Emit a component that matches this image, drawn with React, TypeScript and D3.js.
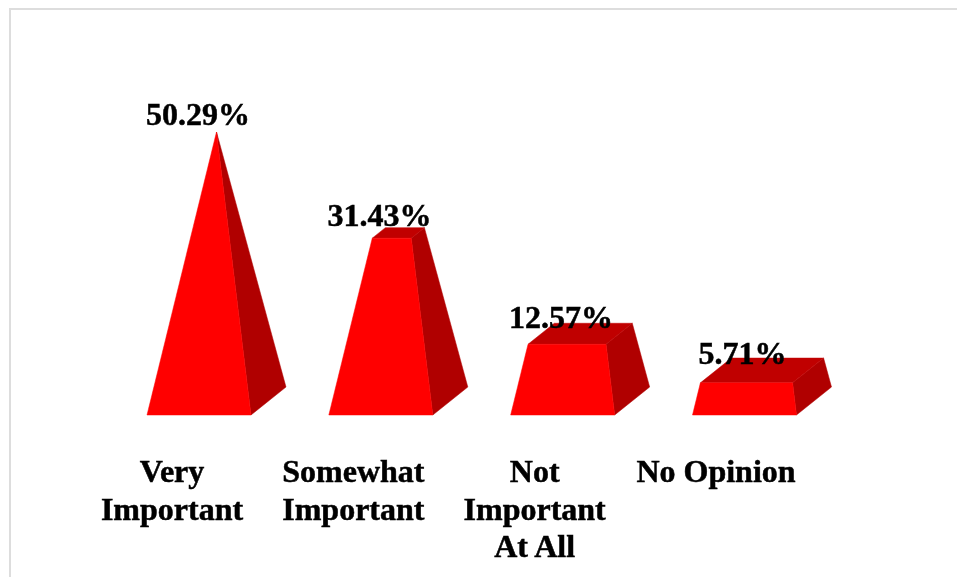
import * as d3 from "d3";

const categories = ["Very Important", "Somewhat Important", "Not Important At All", "No Opinion"];
const categoryLines = [["Very", "Important"], ["Somewhat", "Important"], ["Not", "Important", "At All"], ["No Opinion"]];
const values = [50.29, 31.43, 12.57, 5.71];
const valueLabels = ["50.29%", "31.43%", "12.57%", "5.71%"];

const width = 957;
const height = 577;
const baseY = 415;
const baseW = 104;
const depthX = 35;
const depthY = 28;
const apexY = 132;

// the tallest bar comes to a point, the others are cut off along the way
const taper = d3.scaleLinear().domain([0, d3.max(values)!]).range([0, 1]);
const valueY = d3.scaleLinear().domain([0, d3.max(values)!]).range([395, 125]);
const x = d3.scalePoint<string>().domain(categories).range([147, 692.5]);
const valueX = d3.scalePoint<string>().domain(categories).range([198, 742.5]);
const labelX = d3.scalePoint<string>().domain(categories).range([172, 716]);

const line = d3.line().curve(d3.curveLinearClosed);

function Bar({ name, value }: { name: string; value: number }) {
  const x0 = x(name)!;
  const t = taper(value);
  const cx = x0 + (baseW + depthX) / 2;
  // corners of the base, front then back
  const fl: [number, number] = [x0, baseY];
  const fr: [number, number] = [x0 + baseW, baseY];
  const br: [number, number] = [x0 + baseW + depthX, baseY - depthY];
  const bl: [number, number] = [x0 + depthX, baseY - depthY];
  const up = (p: [number, number]): [number, number] => [p[0] + (cx - p[0]) * t, p[1] + (apexY - p[1]) * t];
  return (
    <g strokeWidth={0.5} strokeLinejoin="round">
      <path d={line([fr, br, up(br), up(fr)])!} fill="#b00000" stroke="#b00000" />
      <path d={line([up(fl), up(fr), up(br), up(bl)])!} fill="#c00000" stroke="#c00000" />
      <path d={line([fl, fr, up(fr), up(fl)])!} fill="#ff0000" stroke="#ff0000" />
    </g>
  );
}

export default function App() {
  return (
    <svg
      width={width}
      height={height}
      style={{ position: "absolute", left: 0, top: 0, display: "block", background: "#fff" }}
      fontFamily="'Liberation Serif', serif"
      fontWeight="bold"
      fontSize={32}
    >
      <defs>
        <filter id="soft" x="-5%" y="-5%" width="110%" height="110%">
          <feGaussianBlur stdDeviation="0.55" />
        </filter>
      </defs>
      <path d={`M10,${height}V9H${width}`} fill="none" stroke="#dddddd" strokeWidth={2} />
      <g filter="url(#soft)">
        {categories.map((c, i) => (
          <Bar key={c} name={c} value={values[i]} />
        ))}
        <g fill="#000" stroke="#000" strokeWidth={0.5}>
          {categories.map((c, i) => (
            <text key={c} x={valueX(c)} y={valueY(values[i])} textAnchor="middle">
              {valueLabels[i]}
            </text>
          ))}
          {categories.map((c, i) => (
            <text key={c} textAnchor="middle">
              {categoryLines[i].map((l, j) => (
                <tspan key={l} x={labelX(c)} y={482 + j * 37.5}>
                  {l}
                </tspan>
              ))}
            </text>
          ))}
        </g>
      </g>
    </svg>
  );
}
